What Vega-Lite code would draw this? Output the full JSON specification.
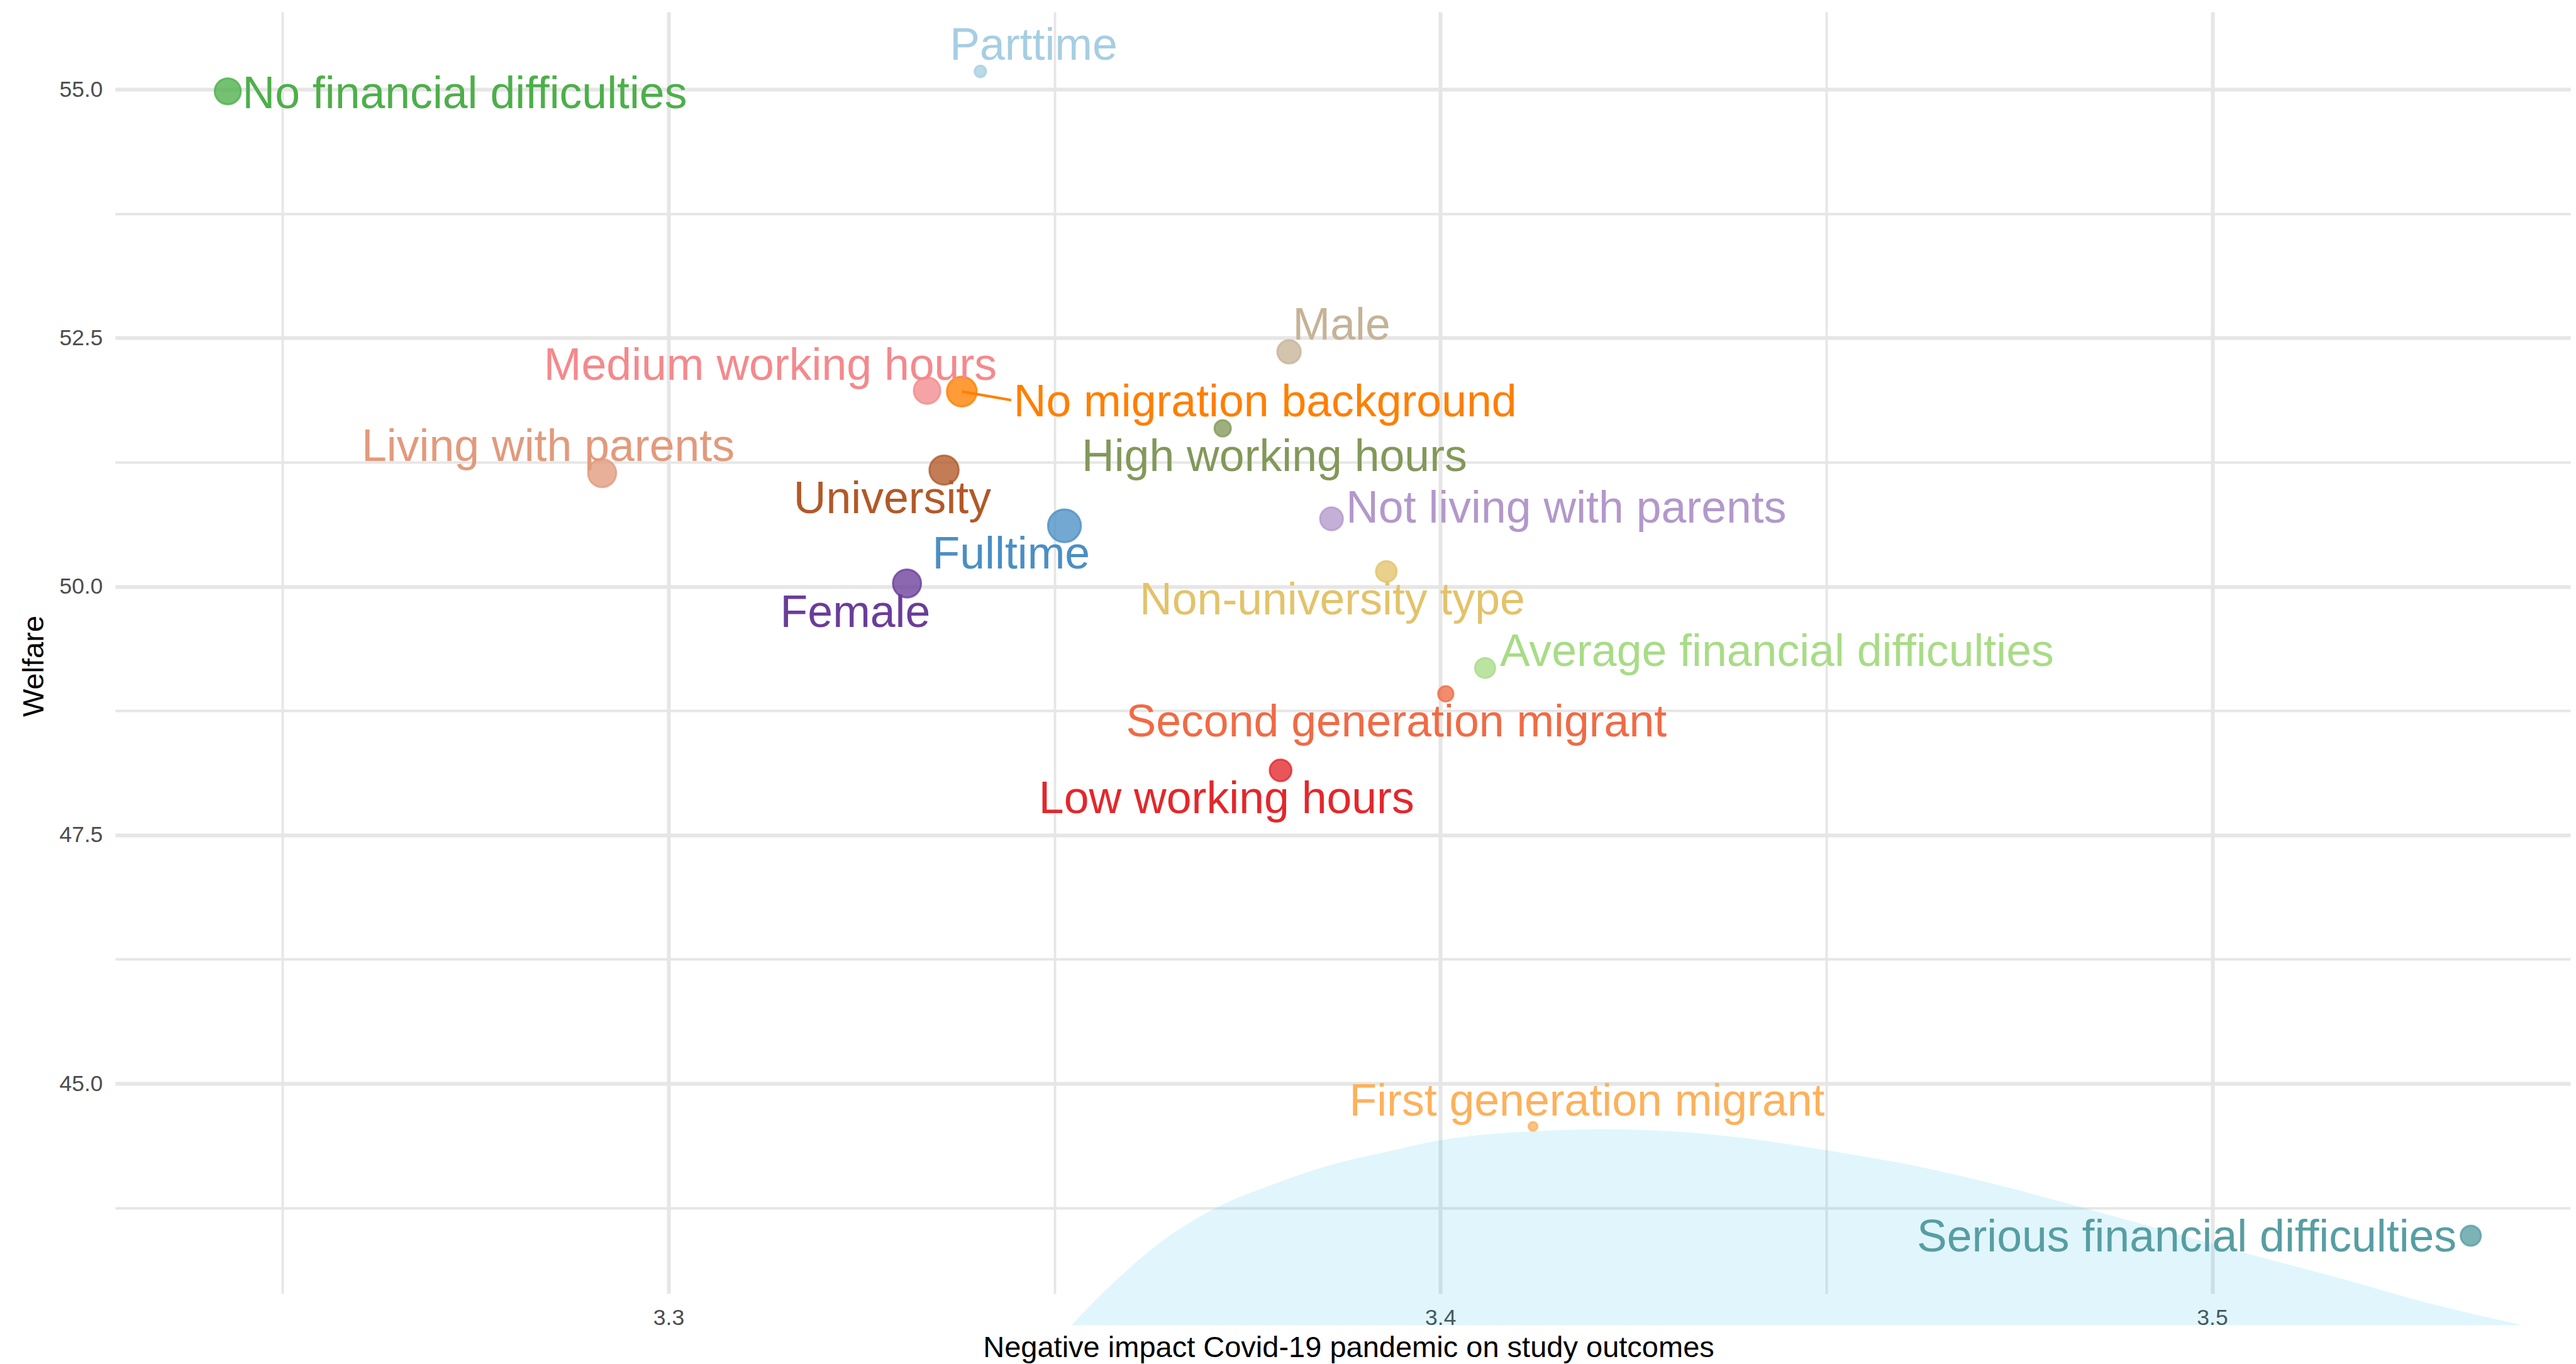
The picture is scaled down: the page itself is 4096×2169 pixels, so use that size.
{
  "$schema": "https://vega.github.io/schema/vega-lite/v6.json",
  "width": 3904,
  "height": 2038,
  "autosize": {"type": "none"},
  "padding": {"left": 183, "top": 19, "right": 9, "bottom": 112},
  "background": "white",
  "config": {"font": "Liberation Sans", "view": {"stroke": null}},
  "datasets": {
    "groups": [
      {"group": "No financial difficulties", "x": 3.2429, "y": 54.98, "n": 172, "lx": 3.2736, "ly": 54.81},
      {"group": "Parttime", "x": 3.3404, "y": 55.18, "n": 34, "lx": 3.3473, "ly": 55.30},
      {"group": "Male", "x": 3.3804, "y": 52.36, "n": 139, "lx": 3.3872, "ly": 52.48},
      {"group": "Medium working hours", "x": 3.3335, "y": 51.97, "n": 179, "lx": 3.3132, "ly": 52.08},
      {"group": "No migration background", "x": 3.3380, "y": 51.96, "n": 225, "lx": 3.3773, "ly": 51.71},
      {"group": "High working hours", "x": 3.3718, "y": 51.59, "n": 68, "lx": 3.3785, "ly": 51.16},
      {"group": "Living with parents", "x": 3.2914, "y": 51.14, "n": 201, "lx": 3.2844, "ly": 51.26},
      {"group": "University", "x": 3.3357, "y": 51.17, "n": 217, "lx": 3.3290, "ly": 50.74},
      {"group": "Fulltime", "x": 3.3513, "y": 50.61, "n": 275, "lx": 3.3444, "ly": 50.18},
      {"group": "Not living with parents", "x": 3.3859, "y": 50.68, "n": 132, "lx": 3.4163, "ly": 50.64},
      {"group": "Female", "x": 3.3309, "y": 50.03, "n": 201, "lx": 3.3242, "ly": 49.59},
      {"group": "Non-university type", "x": 3.3930, "y": 50.15, "n": 109, "lx": 3.3860, "ly": 49.72},
      {"group": "Average financial difficulties", "x": 3.4058, "y": 49.18, "n": 103, "lx": 3.4436, "ly": 49.20},
      {"group": "Second generation migrant", "x": 3.4007, "y": 48.92, "n": 60, "lx": 3.3943, "ly": 48.49},
      {"group": "Low working hours", "x": 3.3793, "y": 48.15, "n": 120, "lx": 3.3723, "ly": 47.72},
      {"group": "First generation migrant", "x": 3.4120, "y": 44.57, "n": 20, "lx": 3.4190, "ly": 44.68},
      {"group": "Serious financial difficulties", "x": 3.5335, "y": 43.47, "n": 103, "lx": 3.4967, "ly": 43.31}
    ],
    "segments": [
      {"group": "No migration background", "x": 3.3380, "y": 51.96, "x2": 3.3444, "y2": 51.874}
    ],
    "curve": [
      {"x": 3.3522, "y": 42.57},
      {"x": 3.3581, "y": 43.03},
      {"x": 3.3649, "y": 43.47},
      {"x": 3.3712, "y": 43.76},
      {"x": 3.3788, "y": 44.00},
      {"x": 3.3857, "y": 44.18},
      {"x": 3.3928, "y": 44.31},
      {"x": 3.4000, "y": 44.43},
      {"x": 3.4060, "y": 44.49},
      {"x": 3.4119, "y": 44.52},
      {"x": 3.4211, "y": 44.54},
      {"x": 3.4300, "y": 44.52},
      {"x": 3.4396, "y": 44.45},
      {"x": 3.4507, "y": 44.32},
      {"x": 3.4617, "y": 44.17},
      {"x": 3.4728, "y": 43.97},
      {"x": 3.4824, "y": 43.77},
      {"x": 3.4935, "y": 43.53},
      {"x": 3.5046, "y": 43.29},
      {"x": 3.5171, "y": 43.03},
      {"x": 3.5281, "y": 42.79},
      {"x": 3.5402, "y": 42.57}
    ]
  },
  "layer": [
    {
      "data": {"name": "curve"},
      "mark": {"type": "area", "fill": "#00b8e6", "opacity": 0.12, "interpolate": "monotone"},
      "encoding": {
        "x": {
          "field": "x", "type": "quantitative",
          "scale": {"domain": [3.2283, 3.5464], "nice": false, "zero": false},
          "title": "Negative impact Covid-19 pandemic on study outcomes",
          "axis": {
            "values": [3.25, 3.3, 3.35, 3.4, 3.45, 3.5],
            "labelExpr": "abs(datum.value*10 - round(datum.value*10)) < 0.001 ? format(datum.value, '.1f') : ''",
            "grid": true,
            "gridColor": "#e6e6e6",
            "gridWidth": {"condition": {"test": "abs(datum.value*10 - round(datum.value*10)) < 0.001", "value": 6}, "value": 3.8},
            "domain": false, "ticks": false, "tickSize": 0,
            "labelFontSize": 35.5, "labelColor": "#4d4d4d", "labelBaseline": "alphabetic", "labelPadding": 49,
            "labelFlush": false, "labelOverlap": false,
            "titleFontSize": 47, "titleColor": "#000000", "titleFontWeight": "normal",
            "titleBaseline": "alphabetic", "titleX": 1961, "titleY": 100, "titleAlign": "center"
          }
        },
        "y": {
          "field": "y", "type": "quantitative",
          "scale": {"domain": [42.888, 55.778], "nice": false, "zero": false},
          "title": "Welfare",
          "axis": {
            "values": [43.75, 45, 46.25, 47.5, 48.75, 50, 51.25, 52.5, 53.75, 55],
            "labelExpr": "abs(datum.value/2.5 - round(datum.value/2.5)) < 0.001 ? format(datum.value, '.1f') : ''",
            "grid": true,
            "gridColor": "#e6e6e6",
            "gridWidth": {"condition": {"test": "abs(datum.value/2.5 - round(datum.value/2.5)) < 0.001", "value": 6}, "value": 3.8},
            "domain": false, "ticks": false, "tickSize": 0,
            "labelFontSize": 35.5, "labelColor": "#4d4d4d", "labelBaseline": "middle", "labelPadding": 20,
            "labelFlush": false, "labelOverlap": false,
            "titleFontSize": 47, "titleColor": "#000000", "titleFontWeight": "normal",
            "titleAngle": -90, "titleBaseline": "alphabetic", "titleX": -115, "titleY": 1040, "titleAlign": "center"
          }
        },
        "y2": {"datum": 42.57}
      }
    },
    {
      "data": {"name": "groups"},
      "mark": {"type": "circle", "fillOpacity": 0.78, "strokeOpacity": 0.78, "strokeWidth": 3},
      "encoding": {
        "x": {"field": "x", "type": "quantitative", "title": "Negative impact Covid-19 pandemic on study outcomes"},
        "y": {"field": "y", "type": "quantitative", "title": "Welfare"},
        "size": {"field": "n", "type": "quantitative", "scale": {"type": "linear", "domain": [0, 300], "range": [0, 3000], "zero": true}, "legend": null},
        "color": {
          "field": "group", "type": "nominal", "legend": null,
          "scale": {
            "domain": ["No financial difficulties", "Parttime", "Male", "Medium working hours", "No migration background", "High working hours", "Living with parents", "University", "Fulltime", "Not living with parents", "Female", "Non-university type", "Average financial difficulties", "Second generation migrant", "Low working hours", "First generation migrant", "Serious financial difficulties"],
            "range": ["#4daf4a", "#a6cee3", "#c5b396", "#f4898c", "#ff7f00", "#83985a", "#e29a7c", "#b15928", "#4a8fc4", "#b398cb", "#6a3d9a", "#e3c36a", "#a8dc86", "#f06b45", "#e3272b", "#fdb15c", "#579ea3"]
          }
        },
        "stroke": {
          "field": "group", "type": "nominal", "legend": null,
          "scale": {
            "domain": ["No financial difficulties", "Parttime", "Male", "Medium working hours", "No migration background", "High working hours", "Living with parents", "University", "Fulltime", "Not living with parents", "Female", "Non-university type", "Average financial difficulties", "Second generation migrant", "Low working hours", "First generation migrant", "Serious financial difficulties"],
            "range": ["#4daf4a", "#a6cee3", "#c5b396", "#f4898c", "#ff7f00", "#83985a", "#e29a7c", "#b15928", "#4a8fc4", "#b398cb", "#6a3d9a", "#e3c36a", "#a8dc86", "#f06b45", "#e3272b", "#fdb15c", "#579ea3"]
          }
        }
      }
    },
    {
      "data": {"name": "segments"},
      "mark": {"type": "rule", "strokeWidth": 4.3},
      "encoding": {
        "x": {"field": "x", "type": "quantitative", "title": "Negative impact Covid-19 pandemic on study outcomes"},
        "y": {"field": "y", "type": "quantitative", "title": "Welfare"},
        "x2": {"field": "x2"},
        "y2": {"field": "y2"},
        "color": {"field": "group", "type": "nominal", "legend": null}
      }
    },
    {
      "data": {"name": "groups"},
      "mark": {"type": "text", "fontSize": 71.6, "align": "center", "baseline": "alphabetic"},
      "encoding": {
        "x": {"field": "lx", "type": "quantitative", "title": "Negative impact Covid-19 pandemic on study outcomes"},
        "y": {"field": "ly", "type": "quantitative", "title": "Welfare"},
        "text": {"field": "group", "type": "nominal"},
        "color": {"field": "group", "type": "nominal", "legend": null}
      }
    }
  ]
}
